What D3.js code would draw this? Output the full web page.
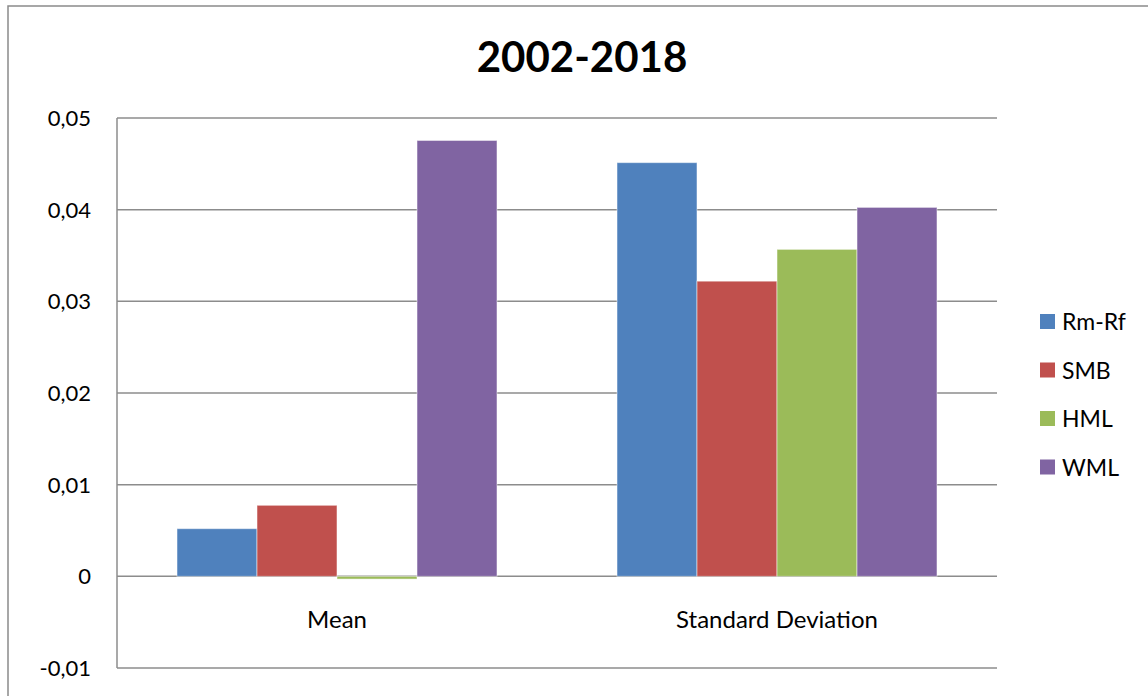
<!DOCTYPE html>
<html>
<head>
<meta charset="utf-8">
<script src="https://cdn.jsdelivr.net/npm/d3@7"></script>
<style>
  body { margin: 0; background: #fff; }
  text { font-family: Lato, "Open Sans", sans-serif; fill: #000; }
</style>
</head>
<body>
<div id="chart"></div>
<script>
// chart data
var categories = ["Mean", "Standard Deviation"];
var series = ["Rm-Rf", "SMB", "HML", "WML"];
var colors = ["#4F81BD", "#C0504D", "#9BBB59", "#8064A2"];
var meanValues = [0.0052, 0.00775, -0.0003, 0.04755];
var sdValues = [0.04513, 0.0322, 0.03567, 0.04025];
var yTicks = [-0.01, 0, 0.01, 0.02, 0.03, 0.04, 0.05];

var width = 1148, height = 696;
var plot = {left: 117, right: 997, top: 118, bottom: 668};

var svg = d3.select("#chart").append("svg")
  .attr("width", width)
  .attr("height", height);

// outer chart border (runs off the right/bottom edge like the source)
svg.append("rect")
  .attr("x", 8).attr("y", 6)
  .attr("width", width + 20).attr("height", height + 20)
  .attr("fill", "none")
  .attr("stroke", "#8a8a8a")
  .attr("stroke-width", 1.5);

// title
svg.append("text")
  .attr("x", 582).attr("y", 72)
  .attr("text-anchor", "middle")
  .style("font-size", "42px")
  .style("font-weight", "bold")
  .text("2002-2018");

var y = d3.scaleLinear()
  .domain([-0.01, 0.05])
  .range([plot.bottom, plot.top]);

var x0 = d3.scaleBand()
  .domain(categories)
  .range([plot.left, plot.right])
  .paddingInner(120 / 440)
  .paddingOuter(60 / 440);

var x1 = d3.scaleBand()
  .domain(series)
  .range([0, x0.bandwidth()]);

// comma decimals, plain hyphen for negatives
var fmt = function(d) {
  if (d === 0) return "0";
  return (d < 0 ? "-" : "") + Math.abs(d).toFixed(2).replace(".", ",");
};

// gridlines + tick labels
svg.append("g")
  .selectAll("line")
  .data(yTicks)
  .enter().append("line")
  .attr("x1", plot.left).attr("x2", plot.right)
  .attr("y1", function(d) { return y(d); })
  .attr("y2", function(d) { return y(d); })
  .attr("stroke", "#8c8c8c")
  .attr("stroke-width", 1.5);

svg.append("g")
  .selectAll("text")
  .data(yTicks)
  .enter().append("text")
  .attr("x", 91)
  .attr("y", function(d) { return y(d) + 8; })
  .attr("text-anchor", "end")
  .style("font-size", "22px")
  .text(fmt);

// left axis line
svg.append("line")
  .attr("x1", plot.left).attr("x2", plot.left)
  .attr("y1", plot.top).attr("y2", plot.bottom)
  .attr("stroke", "#8c8c8c")
  .attr("stroke-width", 1.5);

// bars
var rows = categories.map(function(c, i) {
  var vals = i === 0 ? meanValues : sdValues;
  return {cat: c, vals: series.map(function(s, j) { return {s: s, v: vals[j], color: colors[j]}; })};
});

svg.append("g")
  .selectAll("g")
  .data(rows)
  .enter().append("g")
  .attr("transform", function(d) { return "translate(" + x0(d.cat) + ",0)"; })
  .selectAll("rect")
  .data(function(d) { return d.vals; })
  .enter().append("rect")
  .attr("x", function(d) { return x1(d.s); })
  .attr("width", x1.bandwidth())
  .attr("y", function(d) { return y(Math.max(0, d.v)); })
  .attr("height", function(d) { return Math.abs(y(d.v) - y(0)); })
  .attr("fill", function(d) { return d.color; })
  .attr("stroke", "rgba(255,255,255,0.5)")
  .attr("stroke-width", 1);

// category labels
svg.append("g")
  .selectAll("text")
  .data(categories)
  .enter().append("text")
  .attr("x", function(d) { return x0(d) + x0.bandwidth() / 2; })
  .attr("y", 628)
  .attr("text-anchor", "middle")
  .style("font-size", "24px")
  .text(function(d) { return d; });

// legend
var legend = svg.append("g")
  .selectAll("g")
  .data(series)
  .enter().append("g")
  .attr("transform", function(d, i) { return "translate(1040," + (314 + i * 48.5) + ")"; });

legend.append("rect")
  .attr("width", 15).attr("height", 15)
  .attr("fill", function(d, i) { return colors[i]; });

legend.append("text")
  .attr("x", 22).attr("y", 16)
  .style("font-size", "23px")
  .text(function(d) { return d; });
</script>
</body>
</html>
